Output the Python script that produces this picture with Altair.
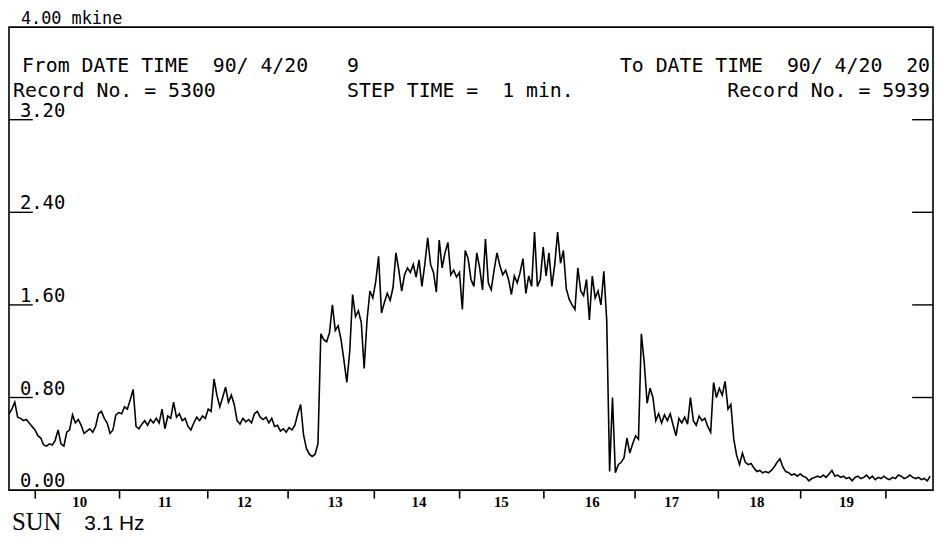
import altair as alt
import pandas as pd

# ---- data (1 value per 2 minutes, record 5300 .. 5939) ----
step_minutes = 2
level = [
    0.66, 0.70, 0.76, 0.63, 0.62, 0.60, 0.61, 0.58, 0.55, 0.52,
    0.47, 0.45, 0.39, 0.38, 0.40, 0.39, 0.43, 0.52, 0.40, 0.38,
    0.50, 0.52, 0.65, 0.58, 0.61, 0.56, 0.49, 0.51, 0.53, 0.50,
    0.55, 0.66, 0.68, 0.62, 0.58, 0.49, 0.52, 0.65, 0.67, 0.66,
    0.72, 0.70, 0.78, 0.87, 0.55, 0.53, 0.57, 0.60, 0.56, 0.61,
    0.58, 0.62, 0.58, 0.70, 0.53, 0.64, 0.62, 0.76, 0.63, 0.66,
    0.60, 0.62, 0.55, 0.52, 0.58, 0.63, 0.60, 0.64, 0.62, 0.70,
    0.68, 0.96, 0.82, 0.72, 0.80, 0.89, 0.76, 0.82, 0.74, 0.60,
    0.57, 0.62, 0.59, 0.61, 0.58, 0.66, 0.68, 0.63, 0.61, 0.63,
    0.58, 0.62, 0.55, 0.56, 0.51, 0.53, 0.50, 0.54, 0.52, 0.56,
    0.66, 0.74, 0.48, 0.36, 0.31, 0.29, 0.31, 0.40, 1.35, 1.30,
    1.28, 1.36, 1.60, 1.38, 1.42, 1.30, 1.12, 0.93, 1.20, 1.69,
    1.50, 1.55, 1.45, 1.05, 1.47, 1.72, 1.66, 1.80, 2.02, 1.53,
    1.62, 1.70, 1.64, 1.75, 2.05, 1.90, 1.72, 1.86, 1.92, 1.88,
    1.95, 1.84, 1.99, 1.76, 1.95, 2.18, 1.95, 1.88, 1.71, 2.16,
    1.92, 2.05, 2.14, 1.86, 1.90, 1.84, 1.88, 1.56, 2.07, 2.00,
    1.82, 1.76, 2.05, 1.92, 1.73, 2.17, 1.79, 1.73, 1.90, 2.05,
    1.94, 1.86, 1.90, 1.82, 1.69, 1.85, 1.79, 1.88, 2.00, 1.70,
    1.85, 1.76, 2.23, 1.76, 1.82, 2.10, 1.85, 2.05, 1.76, 1.95,
    2.23, 1.96, 2.07, 1.74, 1.65, 1.60, 1.56, 1.92, 1.72, 1.68,
    1.82, 1.47, 1.85, 1.66, 1.72, 1.60, 1.89, 1.47, 0.16, 0.80,
    0.15, 0.22, 0.24, 0.28, 0.45, 0.32, 0.40, 0.47, 0.44, 1.35,
    1.10, 0.75, 0.88, 0.80, 0.60, 0.66, 0.58, 0.65, 0.60, 0.66,
    0.56, 0.47, 0.62, 0.58, 0.63, 0.57, 0.80, 0.60, 0.56, 0.64,
    0.60, 0.62, 0.55, 0.50, 0.93, 0.80, 0.88, 0.82, 0.94, 0.70,
    0.74, 0.44, 0.30, 0.22, 0.32, 0.24, 0.22, 0.23, 0.19, 0.16,
    0.17, 0.15, 0.16, 0.15, 0.17, 0.20, 0.24, 0.27, 0.20, 0.16,
    0.15, 0.13, 0.14, 0.12, 0.14, 0.12, 0.11, 0.08, 0.10, 0.11,
    0.12, 0.11, 0.13, 0.11, 0.14, 0.17, 0.12, 0.13, 0.11, 0.12,
    0.10, 0.11, 0.08, 0.11, 0.12, 0.10, 0.11, 0.13, 0.10, 0.12,
    0.09, 0.11, 0.10, 0.12, 0.10, 0.09, 0.11, 0.10, 0.13, 0.12,
    0.10, 0.11, 0.13, 0.11, 0.10, 0.11, 0.09, 0.10, 0.08, 0.12,
]
minute = [step_minutes * i for i in range(len(level))]

hour_tick_min = [18, 76, 137, 193, 253, 312, 370, 433, 491, 548, 607]
hour_label_min = [49, 108, 163, 226, 284, 341, 404, 459, 518, 580]
hour_labels = ["10", "11", "12", "13", "14", "15", "16", "17", "18", "19"]

y_tick_vals = [0.8, 1.6, 2.4, 3.2]
y_label_vals = [0.0, 0.8, 1.6, 2.4, 3.2]
y_labels = ["0.00", "0.80", "1.60", "2.40", "3.20"]

NB = "\u00a0"  # keeps repeated spaces from collapsing in SVG text

# ---- chart ----
W, H = 932, 467
MONO = "DejaVu Sans Mono"
xscale = alt.Scale(domain=[0, 640], nice=False, zero=False)
yscale = alt.Scale(domain=[0, 4], nice=False, zero=True)

series = pd.DataFrame({"t": minute, "v": level})
line = alt.Chart(series).mark_line(color="black", strokeWidth=1.6, interpolate="linear").encode(
    x=alt.X("t:Q", scale=xscale,
            axis=alt.Axis(values=hour_tick_min, labels=False, ticks=True, tickSize=8,
                          tickColor="black", tickWidth=1.6, domain=False, grid=False, title=None)),
    y=alt.Y("v:Q", scale=yscale, axis=None),
)

hours = pd.DataFrame({"pos": hour_label_min, "lbl": hour_labels})
hour_text = alt.Chart(hours).mark_text(
    font="Liberation Serif", fontSize=15, fontWeight="bold", baseline="middle", align="center", color="black"
).encode(x=alt.X("pos:Q", scale=xscale), y=alt.value(H + 12), text="lbl:N")

ylab = pd.DataFrame({"val": y_label_vals, "lbl": y_labels})
ylab_text = alt.Chart(ylab).mark_text(
    font=MONO, fontSize=19, align="left", baseline="alphabetic", dy=-3, color="black"
).encode(x=alt.value(11), y=alt.Y("val:Q", scale=yscale), text="lbl:N")

yt = pd.DataFrame({"val": y_tick_vals})
left_ticks = alt.Chart(yt).mark_rule(color="black", strokeWidth=1.4).encode(
    x=alt.value(0), x2=alt.value(24), y=alt.Y("val:Q", scale=yscale))
right_ticks = alt.Chart(yt).mark_rule(color="black", strokeWidth=1.4).encode(
    x=alt.value(911), x2=alt.value(932), y=alt.Y("val:Q", scale=yscale))


def label(text, x, y, align="left", font=MONO, size=20, weight="normal"):
    return alt.Chart(alt.Data(values=[{}])).mark_text(
        font=font, fontSize=size, fontWeight=weight, align=align, baseline="alphabetic", color="black"
    ).encode(x=alt.value(x), y=alt.value(y), text=alt.value(text.replace("  ", " " + NB)))


texts = [
    label("4.00 mkine", 12, -3, size=17),
    label("From DATE TIME  90/ 4/20", 13, 45),
    label("9", 341, 45),
    label("Record No. = 5300", 4, 70),
    label("STEP TIME =  1 min.", 341, 70),
    label("To DATE TIME  90/ 4/20  20", 929, 45, align="right"),
    label("Record No. = 5939", 929, 70, align="right"),
    label("SUN", 3, H + 40, font="Liberation Serif", size=25),
    label("3.1 Hz", 76, H + 40, font="Liberation Sans", size=21),
]

chart = alt.layer(line, hour_text, ylab_text, left_ticks, right_ticks, *texts).properties(
    width=W, height=H,
    autosize=alt.AutoSizeParams(type="none"),
    padding={"left": 1, "top": 17, "right": 1, "bottom": 42},
    background="white",
).configure_view(stroke="black", strokeWidth=1.6)

chart.save("out.html", embed_options={"renderer": "svg", "actions": False})
